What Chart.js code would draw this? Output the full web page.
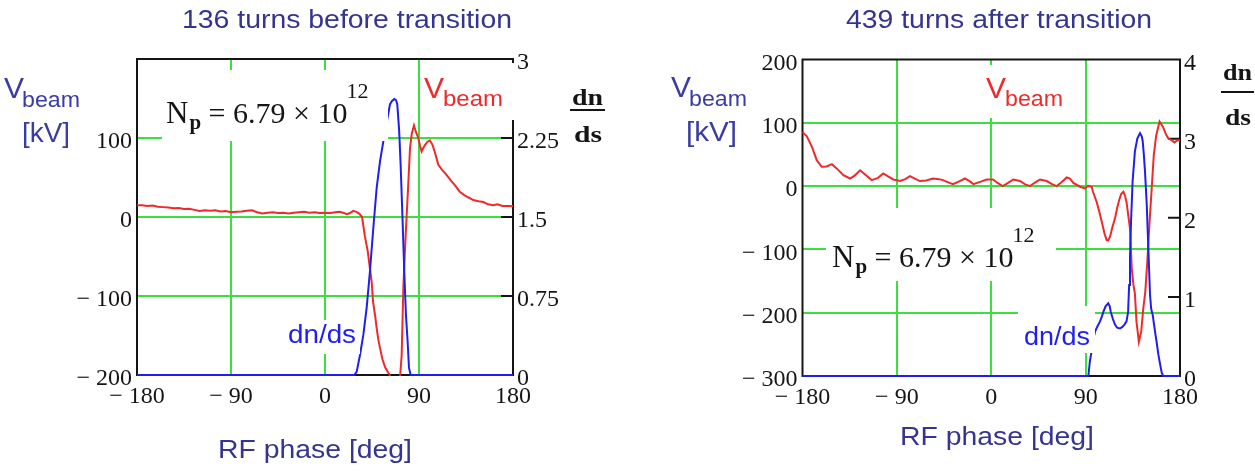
<!DOCTYPE html>
<html><head><meta charset="utf-8">
<script src="https://cdn.jsdelivr.net/npm/chart.js@4"></script>
<style>
html,body{margin:0;padding:0;background:#fff;}
#wrap{position:relative;width:1255px;height:473px;overflow:hidden;background:#fff;}
.c{position:absolute;top:0;}
</style></head><body>
<div id="wrap">
<div class="c" style="left:0;width:627px;height:473px"><canvas id="c1" width="627" height="473"></canvas></div>
<div class="c" style="left:627px;width:628px;height:473px"><canvas id="c2" width="628" height="473"></canvas></div>
</div>
<script>
// ---------- data ----------
const phaseTicks = [-180, -90, 0, 90, 180];
const phaseGrid = [-90, 0, 90];

// Left: 136 turns before transition
const leftPhaseV = [-180,-175,-170,-165,-160,-155,-150,-145,-140,-135,-130,-125,-120,-115,-110,-105,-100,-95,-90,-85,-80,-75,-70,-65,-60,-55,-50,-45,-40,-35,-30,-25,-20,-15,-10,-5,0,5,10,14,18,21,24,27,30,33,35.5,38,41,43,44.7,46,48,49.5,51,52.7,55,57.5,60,62,64,70,72,73.4,75,76.6,78.2,79.8,81.4,83,85.2,87,89.3,91,92.5,94,95.7,98,100.5,103,105,108.5,112,116.5,120,124.5,129,133,137,142,147,151.6,156,161,165,170,175,180];
const leftV = [15,15,14,14.5,13,12.5,12,11,11.5,10,10.5,9,7.5,8.5,8,8.5,7,7.5,6,6.5,7,8,8.5,6,4.5,5.5,6,5,5.5,4.5,5.5,6,6.5,5.5,6,5,5.5,5,6,6.5,5,3.5,5,7.7,6.5,4,0,-23,-44,-65,-82,-107,-125,-141,-155,-166,-180,-190,-196,-200,-240,-240,-200,-175,-90,-40,2,44,87,105,116,108,100,90,83,87,91,95,97,91,83,66,60,53,47,40,32,28,25,21.5,20,19,16,15,16,14,14,13.5];
const leftPhaseD = [-180,28,30.3,33.5,36.7,39.9,43,46.3,49.5,52.7,55.9,57.5,59,60.6,62.2,64,66.3,68,69.2,71,72.4,74.3,75.9,77.5,79.1,80.4,82,180];
const leftD = [0,0,0.03,0.19,0.38,0.64,0.98,1.40,1.78,2.03,2.22,2.30,2.40,2.48,2.57,2.60,2.62,2.61,2.57,2.32,2.0,1.46,0.98,0.57,0.32,0.07,0,0];
const leftVTicks = [-200, -100, 0, 100, 200];
const leftVLabels = [-200, -100, 0, 100];
const leftVGrid = [-100, 0, 100];
const leftDTicks = [0, 0.75, 1.5, 2.25, 3];

// Right: 439 turns after transition
const rightPhaseV = [-180,-176,-171,-166.4,-161.7,-157,-152,-147.4,-141,-134.7,-130,-125,-120,-114,-108,-103,-98,-93.4,-87,-82,-77.5,-72,-68,-62,-55.5,-50,-46,-41,-36.5,-30,-25,-20,-17,-10,-4.4,1.7,6,11,16,21,27.4,32,37,42,46.5,52.9,58,62.4,67,72,75,78.3,84.6,89.4,92,95.8,97,100.5,103,105.3,108,110,111.5,113.3,115.5,118,120,122,124,126,127.5,129,132.3,134,135.5,137,138.5,140.8,143,145,146.9,148.8,151,153,155,157.3,160.5,163.7,166.8,169,171.6,174.8,177,180];
const rightV = [85,79,62,41,30.5,31,34.7,28,17.4,12,17,25,18,9.5,13,20,15,10.5,8,11,15.8,11,7.9,9,12,11,9.5,6,3,8,12,7,3,7,10.5,10.5,5,0,5,10.5,8,3,0,6,10.5,8,3,0,6,13.7,12,5,-1,-3.7,0,-1,-9,-25,-40,-56,-75,-85,-86,-80,-65,-51,-35,-22,-12,-9,-15,-25,-67,-130,-155,-170,-214,-246,-230,-193,-167,-120,-56,-4,49,80,102,94,81,75,73,69,72,72];
const rightPhaseD = [-180,92.6,94,95.5,97,99,101,103.7,105.5,106.9,109,111.6,113,114,116,118,120,122.8,125,127,129,130.5,131.5,132.3,133.3,134.8,137,139.3,141.9,143.5,144.4,145.5,146.6,148.3,149.8,151.4,152.5,154,156.2,157.8,159.4,161,162.6,164,180];
const rightD = [0,0,0.18,0.3,0.45,0.56,0.62,0.69,0.75,0.81,0.88,0.92,0.88,0.81,0.72,0.65,0.61,0.60,0.62,0.65,0.69,0.81,1.15,1.5,1.95,2.46,2.84,3.0,3.07,3.03,2.97,2.8,2.59,2.16,1.62,1.03,0.85,0.77,0.56,0.42,0.27,0.15,0.04,0,0];
const rightVTicks = [-300, -200, -100, 0, 100, 200];
const rightVGrid = [-200, -100, 0, 100];
const rightDTicks = [0, 1, 2, 3, 4];

// ---------- style ----------
const RED = '#ee2a2a', BLUE = '#1e1ef0', GREEN = '#3ce03c', INK = '#151515';
const NAVY = '#35358f', AXBLUE = '#3b3ba6';
const SANS = '"Liberation Sans", Arial, sans-serif';
const SERIF = '"Liberation Serif", "Times New Roman", serif';
const TICKFONT = { family: SERIF, size: 24 };

function fmt(v) { return v < 0 ? '\u2212 ' + Math.abs(v) : String(v); }
function pts(xs, ys) { return xs.map((x, i) => ({ x: x, y: ys[i] })); }

function T(ctx, s, x, y, font, color, w) {
  ctx.save();
  ctx.font = font; ctx.fillStyle = color; ctx.textAlign = 'left'; ctx.textBaseline = 'alphabetic';
  const m = ctx.measureText(s).width;
  ctx.translate(x, y);
  if (w) ctx.scale(w / m, 1);
  ctx.fillText(s, 0, 0);
  ctx.restore();
  return w ? w : m;
}

function makePlugin(L) {
  const o = L.offset;
  return {
    id: 'mathcadLook',
    beforeDatasetsDraw(chart) {
      const ctx = chart.ctx, a = chart.chartArea;
      ctx.save();
      ctx.strokeStyle = INK; ctx.lineWidth = 2;
      ctx.beginPath();
      ctx.moveTo(a.left, a.top); ctx.lineTo(a.right + 1, a.top);
      ctx.moveTo(a.left, a.top - 1); ctx.lineTo(a.left, a.bottom + 1);
      ctx.moveTo(a.left - 1, a.bottom); ctx.lineTo(a.right + 1, a.bottom);
      ctx.moveTo(a.right, a.top - 1); ctx.lineTo(a.right, a.bottom + 1);
      const y1 = chart.scales.y1;
      L.dTicks.forEach(v => {
        const y = y1.getPixelForValue(v);
        ctx.moveTo(a.right - 12, y); ctx.lineTo(a.right, y);
      });
      ctx.stroke();
      ctx.restore();
    },
    afterDatasetsDraw(chart) {
      const ctx = chart.ctx;
      ctx.save();
      ctx.fillStyle = '#fff';
      L.boxes.forEach(b => ctx.fillRect(b[0] - o, b[1], b[2] - b[0], b[3] - b[1]));
      ctx.restore();
      // N_p annotation
      const n = L.np;
      let x = n.x - o;
      x += T(ctx, 'N', x, n.y, '31px ' + SERIF, INK);
      x += T(ctx, 'p', x + 1, n.y + 6, 'bold 21px ' + SERIF, INK) + 1;
      x += T(ctx, ' = 6.79 \u00d7 10', x, n.y, '30px ' + SERIF, INK);
      T(ctx, '12', x - 1, n.y - 25, '22px ' + SERIF, INK);
      // red V_beam
      const r = L.vb;
      T(ctx, 'V', r.x - o, r.y, '30px ' + SANS, RED);
      T(ctx, 'beam', r.x + 19 - o, r.y + 8, '22px ' + SANS, RED, r.w);
      // blue dn/ds
      T(ctx, 'dn/ds', L.dn.x - o, L.dn.y, '25px ' + SANS, BLUE, L.dn.w);
    },
    afterDraw(chart) {
      const ctx = chart.ctx;
      T(ctx, L.title, L.t.x - o, L.t.y, '26px ' + SANS, NAVY, L.t.w);
      // left axis label
      const v = L.va;
      T(ctx, 'V', v.x - o, v.y, '30px ' + SANS, AXBLUE);
      T(ctx, 'beam', v.x + 18 - o, v.y + 9, '22px ' + SANS, AXBLUE, 58);
      T(ctx, '[kV]', v.kx - o, v.y + 44, '28px ' + SANS, AXBLUE, v.kw);
      // right axis label dn/ds fraction
      const f = L.fr;
      T(ctx, 'dn', f.x - o, f.y1, 'bold 23px ' + SERIF, INK, f.w);
      ctx.save(); ctx.strokeStyle = INK; ctx.lineWidth = 2;
      ctx.beginPath(); ctx.moveTo(f.x - 2 - o, f.bar); ctx.lineTo(f.x + f.w + 2 - o, f.bar); ctx.stroke(); ctx.restore();
      T(ctx, 'ds', f.x + 2 - o, f.y2, 'bold 23px ' + SERIF, INK, f.w - 3);
      // x axis title
      T(ctx, 'RF phase [deg]', L.xt.x - o, L.xt.y, '26px ' + SANS, NAVY, 194);
    }
  };
}

function makeChart(id, spec) {
  const gridColor = (vals) => (c) => (c.tick && vals.indexOf(c.tick.value) >= 0) ? GREEN : 'rgba(0,0,0,0)';
  return new Chart(document.getElementById(id), {
    type: 'line',
    data: {
      datasets: [
        { data: pts(spec.phD, spec.d), yAxisID: 'y1', borderColor: BLUE, borderWidth: 2, pointRadius: 0, tension: 0, fill: false, clip: 1 },
        { data: pts(spec.phV, spec.v), yAxisID: 'y', borderColor: RED, borderWidth: 2, pointRadius: 0, tension: 0, fill: false, clip: 1 }
      ]
    },
    options: {
      responsive: false, animation: false, events: [],
      layout: { padding: { top: spec.top, left: 0, right: 0, bottom: 0 } },
      plugins: { legend: { display: false }, tooltip: { enabled: false }, title: { display: false } },
      scales: {
        x: {
          type: 'linear', min: -180, max: 180,
          afterBuildTicks: s => { s.ticks = phaseTicks.map(v => ({ value: v })); },
          afterFit: s => { s.height = spec.xh; },
          ticks: { callback: fmt, font: TICKFONT, color: INK, padding: 7, maxRotation: 0, autoSkip: false },
          grid: { color: gridColor(phaseGrid), lineWidth: 2, drawTicks: false },
          border: { display: false }
        },
        y: {
          type: 'linear', position: 'left', min: spec.vMin, max: spec.vMax,
          afterBuildTicks: s => { s.ticks = spec.vTicks.map(v => ({ value: v })); },
          afterFit: s => { s.width = spec.yw; },
          ticks: { callback: v => (spec.vLabels.indexOf(v) >= 0 ? fmt(v) : ''), font: TICKFONT, color: INK, padding: 5, labelOffset: 4, autoSkip: false },
          grid: { color: gridColor(spec.vGrid), lineWidth: 2, drawTicks: false },
          border: { display: false }
        },
        y1: {
          type: 'linear', position: 'right', min: 0, max: spec.dMax,
          afterBuildTicks: s => { s.ticks = spec.dTicks.map(v => ({ value: v })); },
          afterFit: s => { s.width = spec.y1w; },
          ticks: { callback: v => String(v), font: TICKFONT, color: INK, padding: 4, labelOffset: 4, autoSkip: false },
          grid: { display: false, drawTicks: false },
          border: { display: false }
        }
      }
    },
    plugins: [makePlugin(spec.L)]
  });
}

makeChart('c1', {
  phV: leftPhaseV, v: leftV, phD: leftPhaseD, d: leftD,
  vMin: -200, vMax: 200, vTicks: leftVTicks, vLabels: leftVLabels, vGrid: leftVGrid,
  dMax: 3, dTicks: leftDTicks,
  top: 59, xh: 98, yw: 137, y1w: 114,
  L: {
    offset: 0, title: '136 turns before transition',
    t: { x: 182, y: 28, w: 330 },
    va: { x: 4, y: 98, kx: 22, kw: 48 },
    fr: { x: 572, y1: 105, bar: 110, y2: 142, w: 31 },
    xt: { x: 218, y: 458 },
    np: { x: 166, y: 123 },
    vb: { x: 424, y: 98, w: 60 },
    dn: { x: 288, y: 343, w: 68 },
    dTicks: [0.75, 1.5, 2.25],
    boxes: [[162, 70, 388, 141], [423, 63, 516, 120], [285, 320, 360, 354]]
  }
});

makeChart('c2', {
  phV: rightPhaseV, v: rightV, phD: rightPhaseD, d: rightD,
  vMin: -300, vMax: 200, vTicks: rightVTicks, vLabels: rightVTicks, vGrid: rightVGrid,
  dMax: 4, dTicks: rightDTicks,
  top: 59.5, xh: 97, yw: 175.5, y1w: 75,
  L: {
    offset: 627, title: '439 turns after transition',
    t: { x: 846, y: 28, w: 306 },
    va: { x: 671, y: 97, kx: 686, kw: 51 },
    fr: { x: 1223, y1: 80, bar: 92, y2: 125, w: 29 },
    xt: { x: 900, y: 445 },
    np: { x: 832, y: 267 },
    vb: { x: 986, y: 98, w: 58 },
    dn: { x: 1024, y: 345, w: 66 },
    dTicks: [1, 2, 3],
    boxes: [[826, 208, 1056, 281], [984, 65, 1066, 118], [1018, 306, 1095, 353]]
  }
});
</script>
</body></html>
